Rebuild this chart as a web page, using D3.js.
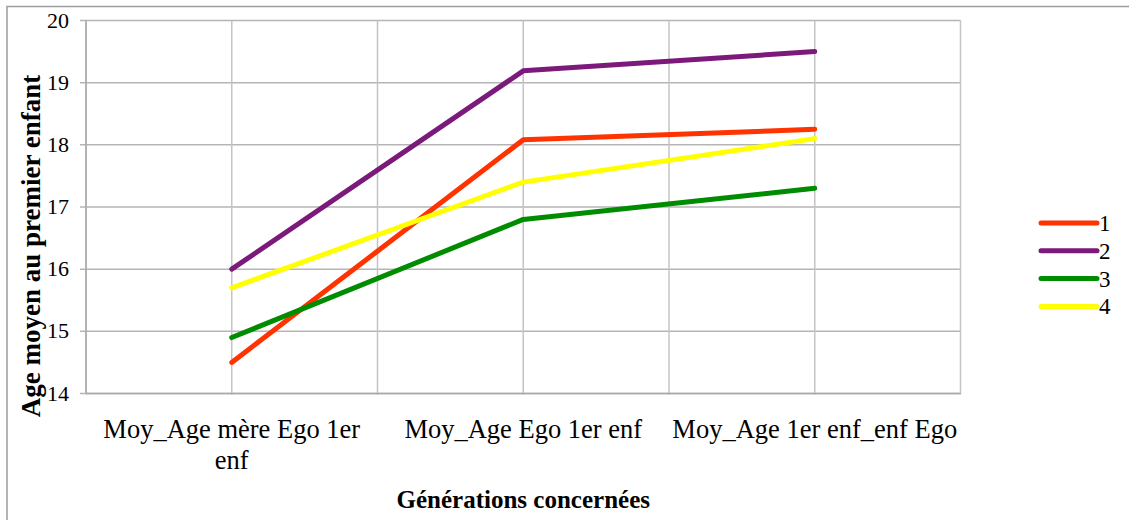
<!DOCTYPE html>
<html>
<head>
<meta charset="utf-8">
<script src="https://cdn.jsdelivr.net/npm/d3@7"></script>
</head>
<body style="margin:0; background:#fff">
<div class="canvas"></div>
<script>
// categories (x axis) and series
const categories = ['Moy_Age mère Ego 1er enf', 'Moy_Age Ego 1er enf', 'Moy_Age 1er enf_enf Ego'];
const categoryLines = [['Moy_Age mère Ego 1er', 'enf'], ['Moy_Age Ego 1er enf'], ['Moy_Age 1er enf_enf Ego']];
const seriesNames = ['1', '2', '3', '4'];
const serie1 = [14.5, 18.08, 18.25];
const serie2 = [16.0, 19.19, 19.5];
const serie3 = [14.9, 16.8, 17.3];
const serie4 = [15.7, 17.4, 18.1];
const yTicks = [14, 15, 16, 17, 18, 19, 20];

const colors = ['#ff3300', '#7b1a7b', '#008c00', '#ffff00'];
const allSeries = [serie1, serie2, serie3, serie4];

const dims = { width: 1129, height: 520 };
const plot = { left: 86, right: 960.5, top: 20.5, bottom: 393.5 };
const serifFont = 'Liberation Serif';

const svg = d3.select('.canvas')
    .append('svg')
    .attr('width', dims.width)
    .attr('height', dims.height)
    .attr('font-family', serifFont);

// outer chart border (runs off the right and bottom)
svg.append('rect')
    .attr('x', 7).attr('y', 6.5)
    .attr('width', 1200).attr('height', 600)
    .attr('fill', 'none')
    .attr('stroke', '#9c9c9c')
    .attr('stroke-width', 1.5);

const x = d3.scaleBand()
    .domain(categories)
    .range([plot.left, plot.right])
    .padding(0);

const y = d3.scaleLinear()
    .domain([14, 20])
    .range([plot.bottom, plot.top]);

const grid = svg.append('g');

// horizontal gridlines
grid.selectAll('line.h')
    .data(yTicks)
    .enter().append('line')
    .attr('class', 'h')
    .attr('x1', plot.left - 6).attr('x2', plot.right)
    .attr('y1', d => y(d)).attr('y2', d => y(d))
    .attr('stroke', '#b5b5b5')
    .attr('stroke-width', 1.5);

// vertical gridlines at band edges and centres
const vLines = [];
categories.forEach(c => {
    vLines.push(x(c));
    vLines.push(x(c) + x.bandwidth() / 2);
});
vLines.push(plot.right);

grid.selectAll('line.v')
    .data(vLines)
    .enter().append('line')
    .attr('class', 'v')
    .attr('x1', d => d).attr('x2', d => d)
    .attr('y1', plot.top).attr('y2', plot.bottom + 1)
    .attr('stroke', '#c4c4c4')
    .attr('stroke-width', 1.5);

// axis lines
svg.append('line')
    .attr('x1', plot.left).attr('x2', plot.left)
    .attr('y1', plot.top).attr('y2', plot.bottom)
    .attr('stroke', '#a8a8a8').attr('stroke-width', 1.5);
svg.append('line')
    .attr('x1', plot.left).attr('x2', plot.right)
    .attr('y1', plot.bottom).attr('y2', plot.bottom)
    .attr('stroke', '#a8a8a8').attr('stroke-width', 1.5);

// y tick labels
svg.selectAll('text.ytick')
    .data(yTicks)
    .enter().append('text')
    .attr('class', 'ytick')
    .attr('x', 69)
    .attr('y', d => y(d) + 7)
    .attr('text-anchor', 'end')
    .attr('font-family', serifFont)
    .attr('font-size', 22)
    .text(d => d);

// category labels
categories.forEach((c, i) => {
    const t = svg.append('text')
        .attr('x', x(c) + x.bandwidth() / 2)
        .attr('y', 438)
        .attr('text-anchor', 'middle')
        .attr('font-family', serifFont)
        .attr('font-size', 26.5);
    categoryLines[i].forEach((ln, j) => {
        t.append('tspan')
            .attr('x', x(c) + x.bandwidth() / 2)
            .attr('dy', j === 0 ? 0 : 31)
            .text(ln);
    });
});

// axis titles
svg.append('text')
    .attr('x', (plot.left + plot.right) / 2)
    .attr('y', 508)
    .attr('text-anchor', 'middle')
    .attr('font-family', serifFont)
    .attr('font-size', 25)
    .attr('font-weight', 'bold')
    .text('Générations concernées');

svg.append('text')
    .attr('transform', 'translate(40,246) rotate(-90)')
    .attr('text-anchor', 'middle')
    .attr('font-family', serifFont)
    .attr('font-size', 27)
    .attr('font-weight', 'bold')
    .text('Age moyen au premier enfant');

// lines
const line = d3.line()
    .x((d, i) => x(categories[i]) + x.bandwidth() / 2)
    .y(d => y(d));

svg.selectAll('path.serie')
    .data(allSeries)
    .enter().append('path')
    .attr('class', 'serie')
    .attr('d', line)
    .attr('fill', 'none')
    .attr('stroke', (d, i) => colors[i])
    .attr('stroke-width', 5)
    .attr('stroke-linecap', 'round')
    .attr('stroke-linejoin', 'round');

// legend
const legend = svg.append('g')
    .attr('transform', 'translate(1041,223)');

const items = legend.selectAll('g')
    .data(seriesNames)
    .enter().append('g')
    .attr('transform', (d, i) => `translate(0,${i * 27.8})`);

items.append('line')
    .attr('x1', 0).attr('x2', 56)
    .attr('y1', 0).attr('y2', 0)
    .attr('stroke', (d, i) => colors[i])
    .attr('stroke-width', 5)
    .attr('stroke-linecap', 'round');

items.append('text')
    .attr('x', 58)
    .attr('y', 8)
    .attr('font-family', serifFont)
    .attr('font-size', 23)
    .text(d => d);
</script>
</body>
</html>
